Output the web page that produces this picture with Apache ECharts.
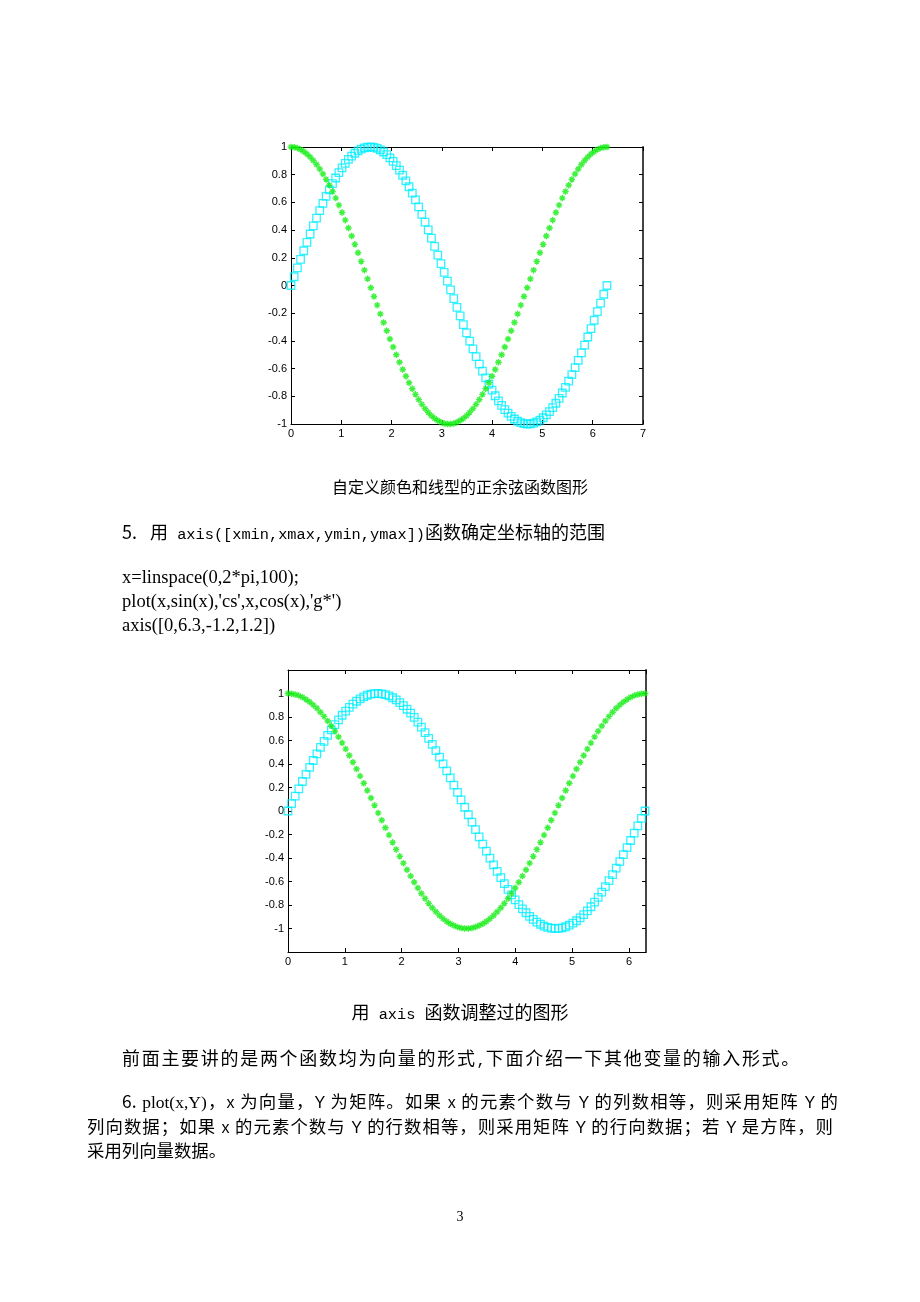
<!DOCTYPE html>
<html>
<head>
<meta charset="utf-8">
<script src="https://cdn.jsdelivr.net/npm/echarts@6/dist/echarts.min.js"></script>
<style>
  html, body { margin: 0; padding: 0; background: #fff; }
  #page { position: relative; width: 920px; height: 1302px; overflow: hidden; background: #fff; }
  #chart { position: absolute; left: 0; top: 0; width: 920px; height: 1302px; }
  .t { position: absolute; white-space: pre; color: #000; font-family: "Noto Sans CJK SC", sans-serif; font-size: 18px; line-height: 24px; pointer-events: none; }
  .m { font-family: "Liberation Mono", "DejaVu Sans Mono", monospace; font-size: 15.3px; letter-spacing: 0; }
  .s { font-family: "Liberation Serif", "Times New Roman", serif; font-size: 18.5px; }
  .g { display: inline-block; width: 13px; }
  .j { text-align: justify; text-align-last: justify; white-space: normal; font-size: 17.4px; }
  .j .v { font-family: "Liberation Sans", Arial, sans-serif; font-size: 16px; }
  .j .s { font-size: 17.5px; }
</style>
</head>
<body>
<div id="page">
  <div id="chart"></div>
  <div class="t" style="left:0;width:920px;text-align:center;top:474px;font-size:16px;">自定义颜色和线型的正余弦函数图形</div>
  <div class="t" style="left:122px;top:519px;">5.<span class="g"></span>用<span class="m"> axis([xmin,xmax,ymin,ymax])</span>函数确定坐标轴的范围</div>
  <div class="t s" style="left:122px;top:565px;">x=linspace(0,2*pi,100);</div>
  <div class="t s" style="left:122px;top:589px;">plot(x,sin(x),'cs',x,cos(x),'g*')</div>
  <div class="t s" style="left:122px;top:613px;">axis([0,6.3,-1.2,1.2])</div>
  <div class="t" style="left:0;width:920px;text-align:center;top:999px;">用<span class="m"> axis </span>函数调整过的图形</div>
  <div class="t" style="left:122px;top:1045px;letter-spacing:1.7px;">前面主要讲的是两个函数均为向量的形式<span class="m">,</span>下面介绍一下其他变量的输入形式。</div>
  <div class="t j" style="left:122px;top:1089px;width:716px;">6.<span class="v">  </span><span class="s">plot(x,Y)</span>，<span class="v">x </span>为向量，<span class="v">Y </span>为矩阵。如果<span class="v"> x </span>的元素个数与<span class="v"> Y </span>的列数相等，则采用矩阵<span class="v"> Y </span>的</div>
  <div class="t j" style="left:87px;top:1114px;width:746px;">列向数据；如果<span class="v"> x </span>的元素个数与<span class="v"> Y </span>的行数相等，则采用矩阵<span class="v"> Y </span>的行向数据；若<span class="v"> Y </span>是方阵，则</div>
  <div class="t" style="left:87px;top:1138px;font-size:17.4px;">采用列向量数据。</div>
  <div class="t s" style="left:0;width:920px;text-align:center;top:1205px;font-size:14px;">3</div>
</div>
<script>
// x = linspace(0, 2*pi, 100)
const X = [0,0.063,0.127,0.190,0.254,0.317,0.381,0.444,0.508,0.571,
0.635,0.698,0.762,0.825,0.889,0.952,1.015,1.079,1.142,1.206,
1.269,1.333,1.396,1.460,1.523,1.587,1.650,1.714,1.777,1.841,
1.904,1.967,2.031,2.094,2.158,2.221,2.285,2.348,2.412,2.475,
2.539,2.602,2.666,2.729,2.793,2.856,2.919,2.983,3.046,3.110,
3.173,3.237,3.300,3.364,3.427,3.491,3.554,3.618,3.681,3.745,
3.808,3.872,3.935,3.998,4.062,4.125,4.189,4.252,4.316,4.379,
4.443,4.506,4.570,4.633,4.697,4.760,4.824,4.887,4.950,5.014,
5.077,5.141,5.204,5.268,5.331,5.395,5.458,5.522,5.585,5.649,
5.712,5.776,5.839,5.902,5.966,6.029,6.093,6.156,6.220,6.283];
// sin(x) values (cyan squares)
const SIN = [0,0.063,0.127,0.189,0.251,0.312,0.372,0.430,0.486,0.541,
0.593,0.643,0.690,0.735,0.776,0.815,0.850,0.882,0.910,0.934,
0.955,0.972,0.985,0.994,0.999,1.000,0.997,0.990,0.979,0.964,
0.945,0.922,0.896,0.866,0.833,0.796,0.756,0.713,0.667,0.618,
0.567,0.514,0.458,0.401,0.342,0.282,0.220,0.158,0.095,0.032,
-0.032,-0.095,-0.158,-0.220,-0.282,-0.342,-0.401,-0.458,-0.514,-0.567,
-0.618,-0.667,-0.713,-0.756,-0.796,-0.833,-0.866,-0.896,-0.922,-0.945,
-0.964,-0.979,-0.990,-0.997,-1.000,-0.999,-0.994,-0.985,-0.972,-0.955,
-0.934,-0.910,-0.882,-0.850,-0.815,-0.776,-0.735,-0.690,-0.643,-0.593,
-0.541,-0.486,-0.430,-0.372,-0.312,-0.251,-0.189,-0.127,-0.063,0];
// cos(x) values (green stars)
const COS = [1.000,0.998,0.992,0.982,0.968,0.950,0.928,0.903,0.874,0.841,
0.805,0.766,0.724,0.679,0.631,0.580,0.527,0.472,0.415,0.357,
0.297,0.236,0.174,0.111,0.048,-0.016,-0.079,-0.142,-0.205,-0.267,
-0.327,-0.386,-0.444,-0.500,-0.554,-0.606,-0.655,-0.702,-0.745,-0.786,
-0.824,-0.858,-0.889,-0.916,-0.940,-0.960,-0.975,-0.987,-0.996,-1.000,
-1.000,-0.996,-0.987,-0.975,-0.960,-0.940,-0.916,-0.889,-0.858,-0.824,
-0.786,-0.745,-0.702,-0.655,-0.606,-0.554,-0.500,-0.444,-0.386,-0.327,
-0.267,-0.205,-0.142,-0.079,-0.016,0.048,0.111,0.174,0.236,0.297,
0.357,0.415,0.472,0.527,0.580,0.631,0.679,0.724,0.766,0.805,
0.841,0.874,0.903,0.928,0.950,0.968,0.982,0.992,0.998,1.000];
// axis ranges
const AX1 = { xmin: 0, xmax: 7, ymin: -1, ymax: 1 };
const AX2 = { xmin: 0, xmax: 6.3, ymin: -1.2, ymax: 1.2 };

const SQ_COLOR = '#00eeff';
const ST_COLOR = '#11ee11';
const STAR = 'path://M5 0L5 10M0 5L10 5M1.6 1.6L8.4 8.4M8.4 1.6L1.6 8.4';

const sinPts = X.map((x, i) => [x, SIN[i]]);
const cosPts = X.map((x, i) => [x, COS[i]]);

function fmt(v) { return String(Math.round(v * 10) / 10); }

function xAxisCfg(gi, ax, pos, showLabel) {
  return {
    type: 'value', gridIndex: gi, position: pos, min: ax.xmin, max: ax.xmax, interval: 1,
    axisLine: { show: true, onZero: false, lineStyle: { color: '#000', width: 1 } },
    axisTick: { show: true, inside: true, length: 4, lineStyle: { color: '#000' } },
    axisLabel: { show: showLabel, color: '#000', fontFamily: 'Liberation Sans, Arial, sans-serif', fontSize: 11, margin: 4,
      showMaxLabel: ax.xmax % 1 === 0, formatter: fmt },
    splitLine: { show: false }
  };
}
function yAxisCfg(gi, ax, pos, showLabel) {
  return {
    type: 'value', gridIndex: gi, position: pos, min: ax.ymin, max: ax.ymax, interval: 0.2,
    axisLine: { show: true, onZero: false, lineStyle: { color: pos === 'right' ? '#444' : '#000', width: pos === 'right' ? 2 : 1 } },
    axisTick: { show: true, inside: true, length: 4, lineStyle: { color: '#000' } },
    axisLabel: { show: showLabel, color: '#000', fontFamily: 'Liberation Sans, Arial, sans-serif', fontSize: 11, margin: 4,
      showMinLabel: Math.abs(ax.ymin) === 1, showMaxLabel: Math.abs(ax.ymax) === 1, formatter: fmt },
    splitLine: { show: false }
  };
}

function sqSeries(xi, yi) {
  return { type: 'scatter', xAxisIndex: xi, yAxisIndex: yi, data: sinPts, symbol: 'rect', symbolSize: 7.5, clip: false,
    itemStyle: { color: 'rgba(0,0,0,0)', borderColor: SQ_COLOR, borderWidth: 1.3 }, silent: true, animation: false };
}
function stSeries(xi, yi) {
  return { type: 'scatter', xAxisIndex: xi, yAxisIndex: yi, data: cosPts, symbol: STAR, symbolSize: 6.5, clip: false,
    itemStyle: { color: ST_COLOR, borderColor: ST_COLOR, borderWidth: 1.4 }, silent: true, animation: false };
}

const chart = echarts.init(document.getElementById('chart'), null, { renderer: 'canvas' });
chart.setOption({
  backgroundColor: '#fff',
  animation: false,
  grid: [
    { left: 291, top: 147, width: 352, height: 277, containLabel: false },
    { left: 288, top: 670, width: 358, height: 282, containLabel: false }
  ],
  xAxis: [
    xAxisCfg(0, AX1, 'bottom', true), xAxisCfg(0, AX1, 'top', false),
    xAxisCfg(1, AX2, 'bottom', true), xAxisCfg(1, AX2, 'top', false)
  ],
  yAxis: [
    yAxisCfg(0, AX1, 'left', true), yAxisCfg(0, AX1, 'right', false),
    yAxisCfg(1, AX2, 'left', true), yAxisCfg(1, AX2, 'right', false)
  ],
  series: [
    sqSeries(0, 0), stSeries(0, 0),
    sqSeries(2, 2), stSeries(2, 2)
  ]
});
</script>
</body>
</html>
